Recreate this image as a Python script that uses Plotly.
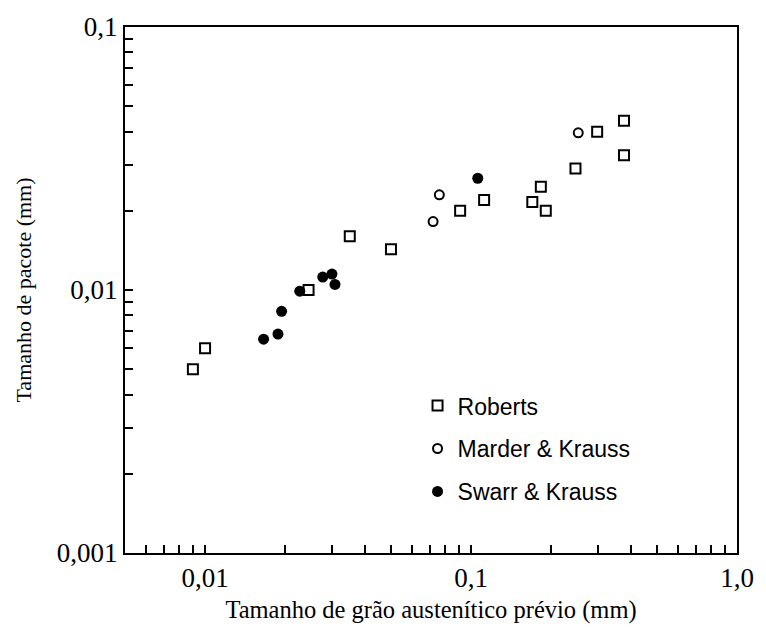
import numpy as np
import plotly.graph_objects as go

# Prior austenite grain size (mm) vs packet size (mm)
roberts_x = [0.009, 0.010, 0.0245, 0.035, 0.050, 0.091, 0.112, 0.170, 0.183, 0.191, 0.247, 0.298, 0.376, 0.376]
roberts_y = [0.0050, 0.0060, 0.0100, 0.0160, 0.0143, 0.0200, 0.0220, 0.0216, 0.0247, 0.0200, 0.0290, 0.0400, 0.0440, 0.0325]

marder_x = [0.072, 0.076, 0.253]
marder_y = [0.0182, 0.0230, 0.0396]

swarr_x = [0.0166, 0.0188, 0.0194, 0.0227, 0.0277, 0.0300, 0.0308, 0.106]
swarr_y = [0.0065, 0.0068, 0.0083, 0.0099, 0.0112, 0.0115, 0.0105, 0.0266]

x_range = [0.005, 1.0]
y_range = [0.001, 0.1]
x_major = [0.01, 0.1, 1.0]
x_major_text = ["0,01", "0,1", "1,0"]
y_major = [0.001, 0.01, 0.1]
y_major_text = ["0,001", "0,01", "0,1"]

serif = "Liberation Serif, Times New Roman, serif"
sans = "Liberation Sans, Arial, sans-serif"


def log_ticks(lo, hi, majors, major_text):
    """All 1..9 x 10^n positions inside [lo, hi]; only the decades get text."""
    vals, text = [], []
    for e in range(int(np.floor(np.log10(lo))), int(np.ceil(np.log10(hi))) + 1):
        for m in range(1, 10):
            v = m * 10.0 ** e
            if v < lo * 0.9999 or v > hi * 1.0001:
                continue
            vals.append(v)
            lab = ""
            for t, s in zip(majors, major_text):
                if abs(v - t) / t < 1e-6:
                    lab = s
            text.append(lab)
    return vals, text


xt_vals, xt_text = log_ticks(x_range[0], x_range[1], x_major, x_major_text)
yt_vals, yt_text = log_ticks(y_range[0], y_range[1], y_major, y_major_text)

fig = go.Figure()
fig.add_trace(go.Scatter(
    x=roberts_x, y=roberts_y, mode="markers", name="Roberts", legendgroup="r",
    marker=dict(symbol="square-open", size=10, color="black", line=dict(width=2)),
))
fig.add_trace(go.Scatter(
    x=marder_x, y=marder_y, mode="markers", name="Marder & Krauss", legendgroup="m",
    marker=dict(symbol="circle-open", size=9, color="black", line=dict(width=2)),
))
fig.add_trace(go.Scatter(
    x=swarr_x, y=swarr_y, mode="markers", name="Swarr & Krauss", legendgroup="s",
    marker=dict(symbol="circle", size=11, color="black"),
))

axis_common = dict(
    type="log",
    showgrid=False,
    zeroline=False,
    showline=True,
    linecolor="black",
    linewidth=2,
    mirror=True,
    ticks="inside",
    ticklen=8,
    tickwidth=1.5,
    tickcolor="black",
    tickmode="array",
    tickfont=dict(family=serif, size=27, color="black"),
)

fig.update_xaxes(
    **axis_common,
    range=[np.log10(x_range[0]), np.log10(x_range[1])],
    tickvals=xt_vals, ticktext=xt_text,
    title=dict(text="Tamanho de grão austenítico prévio (mm)",
               font=dict(family=serif, size=24.5, color="black"), standoff=8),
)
fig.update_yaxes(
    **axis_common,
    range=[np.log10(y_range[0]), np.log10(y_range[1])],
    tickvals=yt_vals, ticktext=yt_text,
    title=dict(text="Tamanho de pacote (mm)",
               font=dict(family=serif, size=22, color="black"), standoff=19),
)

fig.update_layout(
    width=766, height=637,
    margin=dict(l=125, r=24, t=21, b=84),
    paper_bgcolor="white",
    plot_bgcolor="white",
    showlegend=True,
    legend=dict(
        x=0.478, y=0.321, xanchor="left", yanchor="top",
        font=dict(family=sans, size=23, color="black"),
        bgcolor="rgba(0,0,0,0)",
        tracegroupgap=10,
        traceorder="grouped",
    ),
)

fig.write_html("out.html")
